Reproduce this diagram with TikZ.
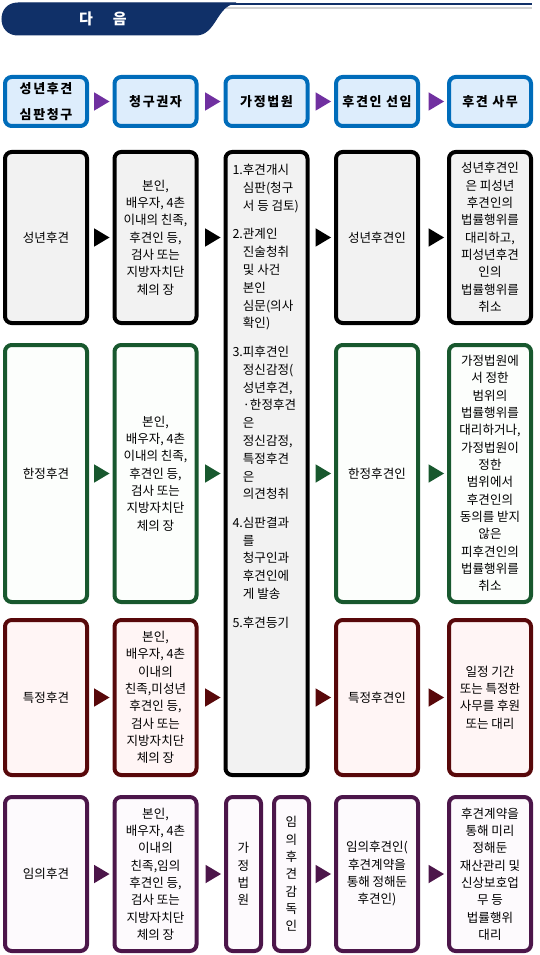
\documentclass[tikz,border=0pt]{standalone}
\usepackage{fontspec}
\setmainfont{Noto Sans CJK KR}
\usetikzlibrary{arrows.meta}

\definecolor{hdrblue}{RGB}{0,108,186}
\definecolor{hdrfill}{RGB}{221,237,252}
\definecolor{hdrarrow}{RGB}{112,48,160}
\definecolor{rowgray}{RGB}{242,242,242}
\definecolor{grnline}{RGB}{24,88,46}
\definecolor{grnfill}{RGB}{252,254,252}
\definecolor{redline}{RGB}{88,8,10}
\definecolor{redfill}{RGB}{255,245,245}
\definecolor{violine}{RGB}{76,22,74}
\definecolor{viofill}{RGB}{253,250,253}
\definecolor{bandark}{RGB}{16,48,104}
\definecolor{banmid}{RGB}{84,136,204}

\tikzset{every picture/.style={line width=0.75pt}}
\tikzset{
  cellbox/.style={draw, rounded corners=5pt, line width=3pt, minimum width=61.5pt, inner sep=0pt, align=center, font=\fontsize{9.4}{13}\selectfont},
  hdrbox/.style={cellbox, draw=hdrblue, fill=hdrfill, minimum height=36.75pt, font=\fontsize{9.75}{20}\selectfont\bfseries\addfontfeature{LetterSpace=12}},
  blkbox/.style={cellbox, draw=black, fill=rowgray},
  grnbox/.style={cellbox, draw=grnline, fill=grnfill, minimum height=192.75pt},
  redbox/.style={cellbox, draw=redline, fill=redfill, minimum height=116.25pt},
  viobox/.style={cellbox, draw=violine, fill=viofill, minimum height=115.5pt},
  flowarrow/.style={-{Triangle[length=12.75pt,width=15pt]}, draw opacity=0, shorten <=3pt, shorten >=1.5pt}
}

\begin{document}
\begin{tikzpicture}[x=0.75pt,y=0.75pt,yscale=-1,xscale=1]
\useasboundingbox (0,0) rectangle (539,955);

%Banner
\draw [gray!35, line width=2pt] (226,8) -- (532,8) ;
\draw [bandark, line width=1.5pt] (224,4.5) -- (532,4.5) ;
\draw [draw=bandark, line width=0.75pt, top color=bandark, middle color=banmid, bottom color=bandark] (18,3) -- (236,3) .. controls (216,5) and (216,35) .. (196,35) -- (18,35) .. controls (8,35) and (2,28) .. (2,19) .. controls (2,10) and (8,3) .. (18,3) -- cycle ;
% Text Node
\node [text=white, font=\fontsize{11.25}{13}\selectfont\bfseries] (bantxt) at (103,19) {다\hspace{15pt}음};

%Header row
\node [hdrbox] (h1) at (46,101.5) {성년후견\\심판청구};
\node [hdrbox] (h2) at (155.5,101.5) {청구권자};
\node [hdrbox] (h3) at (266.5,101.5) {가정법원};
\node [hdrbox] (h4) at (377,101.5) {후견인 선임};
\node [hdrbox] (h5) at (490,101.5) {후견 사무};
\draw [flowarrow, hdrarrow] (h1) -- (h2) ;
\draw [flowarrow, hdrarrow] (h2) -- (h3) ;
\draw [flowarrow, hdrarrow] (h3) -- (h4) ;
\draw [flowarrow, hdrarrow] (h4) -- (h5) ;

%Court column
\node [blkbox, minimum height=467.25pt] (court) at (266.5,463.5) {};
% Text Node
\node [anchor=north west, align=left, inner sep=0pt, font=\fontsize{9.4}{13.35}\selectfont] (courttxt) at (232,164) {1.후견개시\\
\phantom{1.}심판(청구\\
\phantom{1.}서 등 검토)\\[8pt]
2.관계인\\
\phantom{2.}진술청취\\
\phantom{2.}및 사건\\
\phantom{2.}본인\\
\phantom{2.}심문(의사\\
\phantom{2.}확인)\\[8pt]
3.피후견인\\
\phantom{3.}정신감정(\\
\phantom{3.}성년후견,\\
\phantom{3.}·한정후견\\
\phantom{3.}은\\
\phantom{3.}정신감정,\\
\phantom{3.}특정후견\\
\phantom{3.}은\\
\phantom{3.}의견청취\\[8pt]
4.심판결과\\
\phantom{4.}를\\
\phantom{4.}청구인과\\
\phantom{4.}후견인에\\
\phantom{4.}게 발송\\[8pt]
5.후견등기};

%Row 1
\node [blkbox, minimum height=128.25pt] (c1r1) at (46,237.5) {성년후견};
\node [blkbox, minimum height=128.25pt] (c2r1) at (155.5,237.5) {본인,\\배우자, 4촌\\이내의 친족,\\후견인 등,\\검사 또는\\지방자치단\\체의 장};
\node [blkbox, minimum height=128.25pt] (c4r1) at (377,237.5) {성년후견인};
\node [blkbox, minimum height=128.25pt] (c5r1) at (490,237.5) {성년후견인\\은 피성년\\후견인의\\법률행위를\\대리하고,\\피성년후견\\인의\\법률행위를\\취소};
\draw [flowarrow, black] (c1r1) -- (c2r1) ;
\draw [flowarrow, black] (c2r1) -- (c2r1 -| court.west) ;
\draw [flowarrow, black] (c4r1 -| court.east) -- (c4r1) ;
\draw [flowarrow, black] (c4r1) -- (c5r1) ;

%Row 2
\node [grnbox] (c1r2) at (46,473.5) {한정후견};
\node [grnbox] (c2r2) at (155.5,473.5) {본인,\\배우자, 4촌\\이내의 친족,\\후견인 등,\\검사 또는\\지방자치단\\체의 장};
\node [grnbox] (c4r2) at (377,473.5) {한정후견인};
\node [grnbox] (c5r2) at (490,473.5) {가정법원에\\서 정한\\범위의\\법률행위를\\대리하거나,\\가정법원이\\정한\\범위에서\\후견인의\\동의를 받지\\않은\\피후견인의\\법률행위를\\취소};
\draw [flowarrow, grnline] (c1r2) -- (c2r2) ;
\draw [flowarrow, grnline] (c2r2) -- (c2r2 -| court.west) ;
\draw [flowarrow, grnline] (c4r2 -| court.east) -- (c4r2) ;
\draw [flowarrow, grnline] (c4r2) -- (c5r2) ;

%Row 3
\node [redbox] (c1r3) at (46,697.5) {특정후견};
\node [redbox] (c2r3) at (155.5,697.5) {본인,\\배우자, 4촌\\이내의\\친족,미성년\\후견인 등,\\검사 또는\\지방자치단\\체의 장};
\node [redbox] (c4r3) at (377,697.5) {특정후견인};
\node [redbox] (c5r3) at (490,697.5) {일정 기간\\또는 특정한\\사무를 후원\\또는 대리};
\draw [flowarrow, redline] (c1r3) -- (c2r3) ;
\draw [flowarrow, redline] (c2r3) -- (c2r3 -| court.west) ;
\draw [flowarrow, redline] (c4r3 -| court.east) -- (c4r3) ;
\draw [flowarrow, redline] (c4r3) -- (c5r3) ;

%Row 4
\node [viobox] (c1r4) at (46,874) {임의후견};
\node [viobox] (c2r4) at (155.5,874) {본인,\\배우자, 4촌\\이내의\\친족,임의\\후견인 등,\\검사 또는\\지방자치단\\체의 장};
\node [viobox, minimum width=26.25pt] (ct4a) at (243.5,874) {가\\정\\법\\원};
\node [viobox, minimum width=26.25pt] (ct4b) at (291.5,874) {임\\의\\후\\견\\감\\독\\인};
\node [viobox] (c4r4) at (377,874) {임의후견인(\\후견계약을\\통해 정해둔\\후견인)};
\node [viobox] (c5r4) at (490,874) {후견계약을\\통해 미리\\정해둔\\재산관리 및\\신상보호업\\무 등\\법률행위\\대리};
\draw [flowarrow, violine] (c1r4) -- (c2r4) ;
\draw [flowarrow, violine] (c2r4) -- (ct4a) ;
\draw [flowarrow, violine] (ct4b) -- (c4r4) ;
\draw [flowarrow, violine] (c4r4) -- (c5r4) ;

\end{tikzpicture}
\end{document}
